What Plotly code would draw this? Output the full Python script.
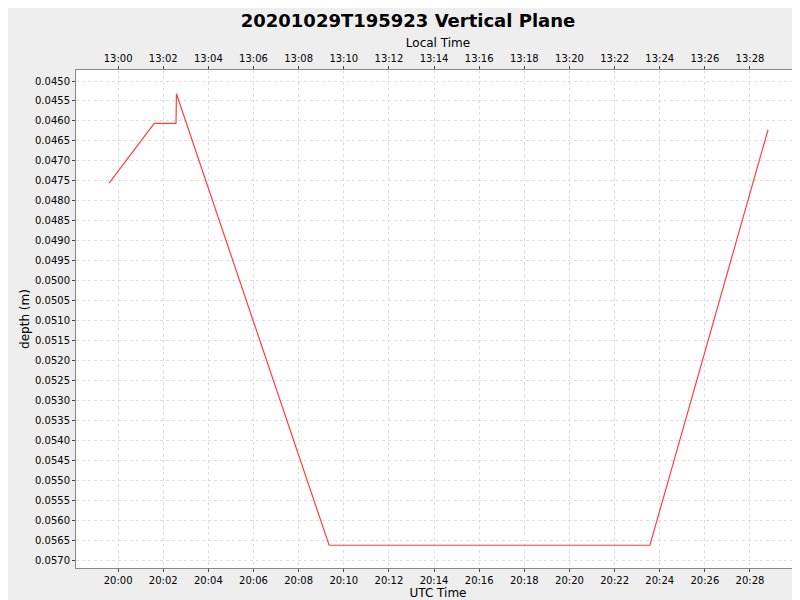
import plotly.graph_objects as go
from datetime import datetime, timedelta

utc_times = ["2020-10-29 19:59:36", "2020-10-29 20:01:36", "2020-10-29 20:02:34",
             "2020-10-29 20:02:35", "2020-10-29 20:09:21", "2020-10-29 20:23:34",
             "2020-10-29 20:28:48"]
depths = [0.04756, 0.04606, 0.04606, 0.04532, 0.05663, 0.05663, 0.04622]
y_ticks = [round(0.045 + 0.0005 * i, 4) for i in range(25)]

fmt = "%Y-%m-%d %H:%M:%S"
x0 = datetime.strptime("2020-10-29 19:58:08", fmt)
x1 = datetime.strptime("2020-10-29 20:30:13", fmt)
off = timedelta(hours=7)

fig = go.Figure()
fig.add_trace(go.Scatter(x=utc_times, y=depths, mode="lines",
                         line=dict(color="#ff4040", width=1.2), showlegend=False))
fig.add_trace(go.Scatter(x=[(x0 - off).strftime(fmt)], y=[0.05], xaxis="x2",
                         mode="markers", marker=dict(opacity=0), showlegend=False,
                         hoverinfo="skip"))
grid = dict(showgrid=True, gridcolor="#dddddd", griddash="3px,3px", gridwidth=1)
fig.update_layout(
    width=800, height=600, paper_bgcolor="#eeeeee", plot_bgcolor="white",
    margin=dict(l=68, r=8, t=62, b=40),
    font=dict(family="DejaVu Sans", size=10, color="black"),
    title=dict(text="<b>20201029T195923 Vertical Plane</b>", x=0.5, y=0.99,
               yanchor="top", font=dict(size=18)),
    xaxis=dict(range=[x0, x1], tickformat="%H:%M", dtick=120000, **grid,
               title=dict(text="UTC Time", font=dict(size=12), standoff=2),
               ticks="outside", ticklen=3, linecolor="#888", automargin=False),
    xaxis2=dict(range=[x0 - off, x1 - off], tickformat="%H:%M", dtick=120000,
                overlaying="x", side="top", showgrid=False,
                title=dict(text="Local Time", font=dict(size=12), standoff=2),
                ticks="outside", ticklen=3, linecolor="#888", automargin=False),
    yaxis=dict(range=[0.0572, 0.044724], tickvals=y_ticks,
               ticktext=[f"{v:.4f}" for v in y_ticks], **grid,
               title=dict(text="depth (m)", font=dict(size=12), standoff=2),
               ticks="outside", ticklen=3, linecolor="#888", mirror=True,
               automargin=False),
)
fig.write_html("out.html")
